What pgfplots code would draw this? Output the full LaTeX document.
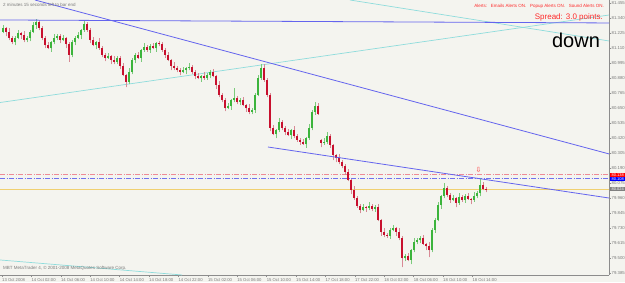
\documentclass[border=0pt]{standalone}
\usepackage{pgfplots}
\pgfplotsset{compat=1.18}
\usepackage{pgfplotstable}
\usepackage{fontspec}
\setmainfont{Liberation Sans}
\newfontfamily\dejavu{DejaVu Sans}
\definecolor{bgcol}{HTML}{F4F4EF}
\definecolor{axgray}{HTML}{8C8C8C}
\definecolor{labgray}{HTML}{7A7A7A}
\definecolor{upbody}{HTML}{3CB43C}
\definecolor{upwick}{HTML}{7CCB7C}
\definecolor{dnbody}{HTML}{C8102E}
\definecolor{dnwick}{HTML}{D88A95}
\definecolor{trend}{HTML}{6464EE}
\definecolor{cyanl}{HTML}{8EDCDC}
\definecolor{alertred}{HTML}{FF2A2A}
\definecolor{pinkdd}{HTML}{EE8A96}
\definecolor{bluedd}{HTML}{7070EE}
\definecolor{bidline}{HTML}{F0D070}

\pgfplotstableread{
x o h l c
1 81.233 81.287 81.225 81.264
2 81.264 81.271 81.202 81.233
3 81.233 81.264 81.171 81.187
4 81.187 81.202 81.140 81.156
5 81.156 81.202 81.133 81.187
6 81.187 81.248 81.179 81.225
7 81.225 81.233 81.179 81.210
8 81.210 81.240 81.156 81.171
9 81.171 81.202 81.156 81.187
10 81.187 81.248 81.163 81.233
11 81.233 81.310 81.225 81.287
12 81.287 81.332 81.256 81.310
13 81.310 81.325 81.248 81.264
14 81.264 81.279 81.171 81.187
15 81.187 81.202 81.110 81.133
16 81.133 81.156 81.102 81.110
17 81.110 81.163 81.080 81.156
18 81.156 81.217 81.140 81.187
19 81.187 81.217 81.171 81.202
20 81.202 81.217 81.148 81.171
21 81.171 81.210 81.163 81.187
22 81.187 81.194 81.110 81.140
23 81.140 81.156 81.003 81.057
24 81.057 81.171 81.041 81.156
25 81.156 81.202 81.133 81.187
26 81.187 81.233 81.179 81.210
27 81.210 81.256 81.179 81.248
28 81.248 81.325 81.233 81.294
29 81.294 81.310 81.233 81.248
30 81.248 81.264 81.148 81.171
31 81.171 81.194 81.125 81.133
32 81.133 81.163 81.102 81.156
33 81.156 81.187 81.095 81.110
34 81.110 81.125 81.041 81.057
35 81.057 81.072 81.010 81.034
36 81.034 81.072 81.026 81.049
37 81.049 81.057 80.987 81.018
38 81.018 81.049 80.987 81.003
39 81.003 81.049 80.987 81.034
40 81.034 81.049 80.949 80.972
41 80.972 80.995 80.895 80.903
42 80.903 80.910 80.811 80.850
43 80.850 80.957 80.834 80.926
44 80.926 81.034 80.910 81.018
45 81.018 81.072 80.995 81.057
46 81.057 81.080 81.026 81.034
47 81.034 81.102 81.003 81.095
48 81.095 81.148 81.080 81.117
49 81.117 81.133 81.080 81.095
50 81.095 81.140 81.072 81.125
51 81.125 81.148 81.102 81.110
52 81.110 81.156 81.080 81.148
53 81.148 81.163 81.125 81.140
54 81.140 81.156 81.080 81.095
55 81.095 81.110 81.034 81.057
56 81.057 81.080 81.010 81.018
57 81.018 81.026 80.941 80.972
58 80.972 81.003 80.941 80.957
59 80.957 80.972 80.926 80.941
60 80.941 80.957 80.903 80.926
61 80.926 80.964 80.918 80.941
62 80.941 80.964 80.910 80.957
63 80.957 80.995 80.941 80.964
64 80.964 80.980 80.910 80.926
65 80.926 80.941 80.872 80.895
66 80.895 80.918 80.872 80.880
67 80.880 80.903 80.850 80.895
68 80.895 80.926 80.865 80.880
69 80.880 80.918 80.865 80.903
70 80.903 80.941 80.880 80.926
71 80.926 80.949 80.887 80.895
72 80.895 80.903 80.796 80.827
73 80.827 80.857 80.734 80.750
74 80.750 80.765 80.696 80.711
75 80.711 80.727 80.627 80.650
76 80.650 80.688 80.642 80.665
77 80.665 80.719 80.635 80.711
78 80.711 80.804 80.696 80.727
79 80.727 80.742 80.680 80.696
80 80.696 80.727 80.673 80.711
81 80.711 80.734 80.665 80.673
82 80.673 80.680 80.620 80.650
83 80.650 80.680 80.604 80.620
84 80.620 80.650 80.604 80.635
85 80.635 80.765 80.612 80.750
86 80.750 80.903 80.742 80.880
87 80.880 80.987 80.865 80.957
88 80.957 80.987 80.850 80.865
89 80.865 80.880 80.734 80.750
90 80.750 80.765 80.473 80.497
91 80.497 80.520 80.443 80.450
92 80.450 80.489 80.420 80.481
93 80.481 80.574 80.466 80.543
94 80.543 80.558 80.481 80.497
95 80.497 80.512 80.443 80.466
96 80.466 80.489 80.435 80.443
97 80.443 80.489 80.412 80.481
98 80.481 80.512 80.420 80.435
99 80.435 80.450 80.390 80.405
100 80.405 80.420 80.367 80.390
101 80.390 80.412 80.367 80.374
102 80.374 80.427 80.344 80.420
103 80.420 80.527 80.405 80.497
104 80.497 80.635 80.481 80.620
105 80.620 80.696 80.597 80.665
106 80.665 80.688 80.597 80.604
107 80.405 80.412 80.351 80.382
108 80.382 80.420 80.367 80.390
109 80.390 80.466 80.374 80.435
110 80.435 80.450 80.344 80.367
111 80.367 80.374 80.251 80.290
112 80.290 80.297 80.236 80.267
113 80.267 80.297 80.220 80.236
114 80.236 80.251 80.190 80.205
115 80.205 80.220 80.137 80.160
116 80.160 80.182 80.090 80.098
117 80.098 80.106 79.990 80.021
118 80.021 80.052 79.945 79.960
119 79.960 79.975 79.884 79.899
120 79.899 79.914 79.845 79.868
121 79.868 79.914 79.860 79.891
122 79.891 79.899 79.853 79.884
123 79.884 79.930 79.868 79.899
124 79.899 79.914 79.860 79.876
125 79.876 79.907 79.853 79.891
126 79.891 79.914 79.783 79.791
127 79.791 79.799 79.669 79.700
128 79.700 79.730 79.661 79.677
129 79.677 79.692 79.654 79.669
130 79.669 79.730 79.646 79.715
131 79.715 79.753 79.707 79.730
132 79.730 79.737 79.669 79.700
133 79.700 79.730 79.638 79.654
134 79.654 79.669 79.431 79.500
135 79.500 79.530 79.477 79.515
136 79.515 79.538 79.477 79.485
137 79.485 79.569 79.454 79.561
138 79.561 79.654 79.546 79.623
139 79.623 79.654 79.607 79.638
140 79.638 79.669 79.615 79.654
141 79.654 79.677 79.600 79.607
142 79.607 79.615 79.561 79.592
143 79.592 79.623 79.507 79.561
144 79.561 79.730 79.546 79.715
145 79.715 79.807 79.692 79.791
146 79.791 79.930 79.783 79.907
147 79.907 79.983 79.876 79.975
148 79.975 80.075 79.960 80.037
149 80.037 80.052 79.967 79.983
150 79.983 79.998 79.922 79.945
151 79.945 79.983 79.937 79.960
152 79.960 79.967 79.891 79.922
153 79.922 79.998 79.907 79.967
154 79.967 79.983 79.930 79.945
155 79.945 79.990 79.922 79.975
156 79.975 79.998 79.945 79.952
157 79.952 79.960 79.914 79.945
158 79.945 80.006 79.930 79.975
159 79.975 80.013 79.960 79.998
160 79.998 80.114 79.975 80.060
161 80.060 80.083 80.021 80.029
162 80.029 80.044 80.006 80.024
}\candles

\pgfplotsset{candle/.style={only marks, mark=*, mark size=0pt, mark options={draw=none, fill=none}}}

\begin{document}
\begin{tikzpicture}
\path[use as bounding box, fill=bgcol] (0pt,0pt) rectangle (625pt,-282pt);
\begin{axis}[
  at={(0pt,0pt)}, anchor=north west,
  scale only axis, width=609pt, height=275pt,
  xmin=0, xmax=203, ymin=79.3697, ymax=81.478,
  axis x line*=bottom, axis y line*=right,
  axis line style={draw=axgray, line width=0.6pt},
  tick align=outside, major tick length=2pt,
  tick style={draw=axgray, line width=0.4pt},
  xtick={0.667,10.467,20.267,30.067,39.867,49.667,59.467,69.267,79.067,88.867,98.667,108.467,118.267,128.067,137.867,147.667,157.467},
  xticklabels={13 Oct 2008,14 Oct 02:00,14 Oct 06:00,14 Oct 10:00,14 Oct 14:00,14 Oct 18:00,14 Oct 22:00,15 Oct 02:00,15 Oct 06:00,15 Oct 10:00,15 Oct 14:00,17 Oct 18:00,17 Oct 22:00,18 Oct 02:00,18 Oct 06:00,18 Oct 10:00,18 Oct 14:00},
  xticklabel style={anchor=north west, inner sep=0pt, yshift=-1pt, font=\fontsize{4.2}{5}\selectfont, text=labgray},
  ytick={79.385,79.500,79.615,79.730,79.845,79.960,80.075,80.190,80.305,80.420,80.535,80.650,80.765,80.880,80.995,81.110,81.225,81.340,81.455},
  yticklabels={79.385,79.500,79.615,79.730,79.845,79.960,80.075,80.190,80.305,80.420,80.535,80.650,80.765,80.880,80.995,81.110,81.225,81.340,81.455},
  yticklabel style={anchor=west, inner sep=0pt, xshift=0.5pt, font=\fontsize{4.3}{5}\selectfont, text=labgray},
  clip=true,
]
% horizontal price lines
\addplot[pinkdd, line width=0.8pt, dash pattern=on 5pt off 1.5pt on 1pt off 1.5pt] coordinates {(0,80.138) (203,80.138)};
\addplot[bluedd, line width=0.8pt, dash pattern=on 5pt off 1.5pt on 1pt off 1.5pt] coordinates {(0,80.108) (203,80.108)};
\addplot[bidline, line width=0.6pt] coordinates {(0,80.024) (203,80.024)};
% cyan lines
\addplot[cyanl, line width=0.7pt] coordinates {(0,80.692) (203,81.363)};
\addplot[cyanl, line width=0.7pt] coordinates {(116.67,81.478) (203,81.164)};
\addplot[cyanl, line width=0.7pt] coordinates {(0,79.485) (60.67,79.370)};
% wicks
\addplot[candle, restrict expr to domain={\thisrow{c}-\thisrow{o}}{0:10},
  error bars/.cd, y dir=plus, y explicit, error mark=none,
  error bar style={draw=upwick, line width=0.6pt}]
  table[x=x, y=l, y error plus expr=\thisrow{h}-\thisrow{l}] {\candles};
\addplot[candle, restrict expr to domain={\thisrow{c}-\thisrow{o}}{-10:0},
  error bars/.cd, y dir=plus, y explicit, error mark=none,
  error bar style={draw=dnwick, line width=0.6pt}]
  table[x=x, y=l, y error plus expr=\thisrow{h}-\thisrow{l}] {\candles};
% bodies
\addplot[candle, restrict expr to domain={\thisrow{c}-\thisrow{o}}{0:10},
  error bars/.cd, y dir=plus, y explicit, error mark=none,
  error bar style={draw=upbody, line width=2pt}]
  table[x=x, y=o, y error plus expr=\thisrow{c}-\thisrow{o}] {\candles};
\addplot[candle, restrict expr to domain={\thisrow{c}-\thisrow{o}}{-10:0},
  error bars/.cd, y dir=plus, y explicit, error mark=none,
  error bar style={draw=dnbody, line width=2pt}]
  table[x=x, y=c, y error plus expr=\thisrow{o}-\thisrow{c}] {\candles};
% blue trend lines
\addplot[trend, line width=0.8pt] coordinates {(0,81.325) (203,81.302)};
\addplot[trend, line width=0.8pt] coordinates {(11.67,81.478) (203,80.298)};
\addplot[trend, line width=0.8pt] coordinates {(89.33,80.351) (203,79.960)};
% arrow
\node[text=alertred, inner sep=0pt, font=\dejavu\fontsize{7}{7}\selectfont] at (axis cs:159.5,80.178) {⇩};
\end{axis}
% texts
\node[anchor=west, inner sep=0pt, text=labgray, font=\fontsize{4.5}{5}\selectfont] at (3pt,-5pt) {2 minutes 15 seconds left to bar end};
\node[anchor=east, inner sep=0pt, text=alertred, font=\fontsize{4.5}{5}\selectfont] at (604pt,-6pt) {Alerts:\ \ \ Emails Alerts ON.\ \ \ Popup Alerts ON.\ \ \ Sound Alerts ON.};
\node[anchor=east, inner sep=0pt, text=alertred, font=\fontsize{8}{9}\selectfont] at (603pt,-17.5pt) {Spread: 3.0 points.};
\node[anchor=base, inner sep=0pt, font=\fontsize{20}{22}\selectfont] at (576pt,-47pt) {down};
\node[anchor=west, inner sep=0pt, text=labgray, font=\fontsize{4.5}{5}\selectfont] at (3pt,-268pt) {MBT MetaTrader 4, © 2001-2008 MetaQuotes Software Corp.};
% price boxes
\node[fill=red, text=white, inner sep=0pt, minimum width=15pt, minimum height=4.3pt, anchor=west, font=\fontsize{4}{4}\selectfont] at (610pt,-174.8pt) {80.138};
\node[fill=blue, text=white, inner sep=0pt, minimum width=15pt, minimum height=4.3pt, anchor=west, font=\fontsize{4}{4}\selectfont] at (610pt,-179.3pt) {80.108};
\node[fill=gray, text=white, inner sep=0pt, minimum width=15pt, minimum height=4.3pt, anchor=west, font=\fontsize{4}{4}\selectfont] at (610pt,-189pt) {80.024};
\end{tikzpicture}
\end{document}
